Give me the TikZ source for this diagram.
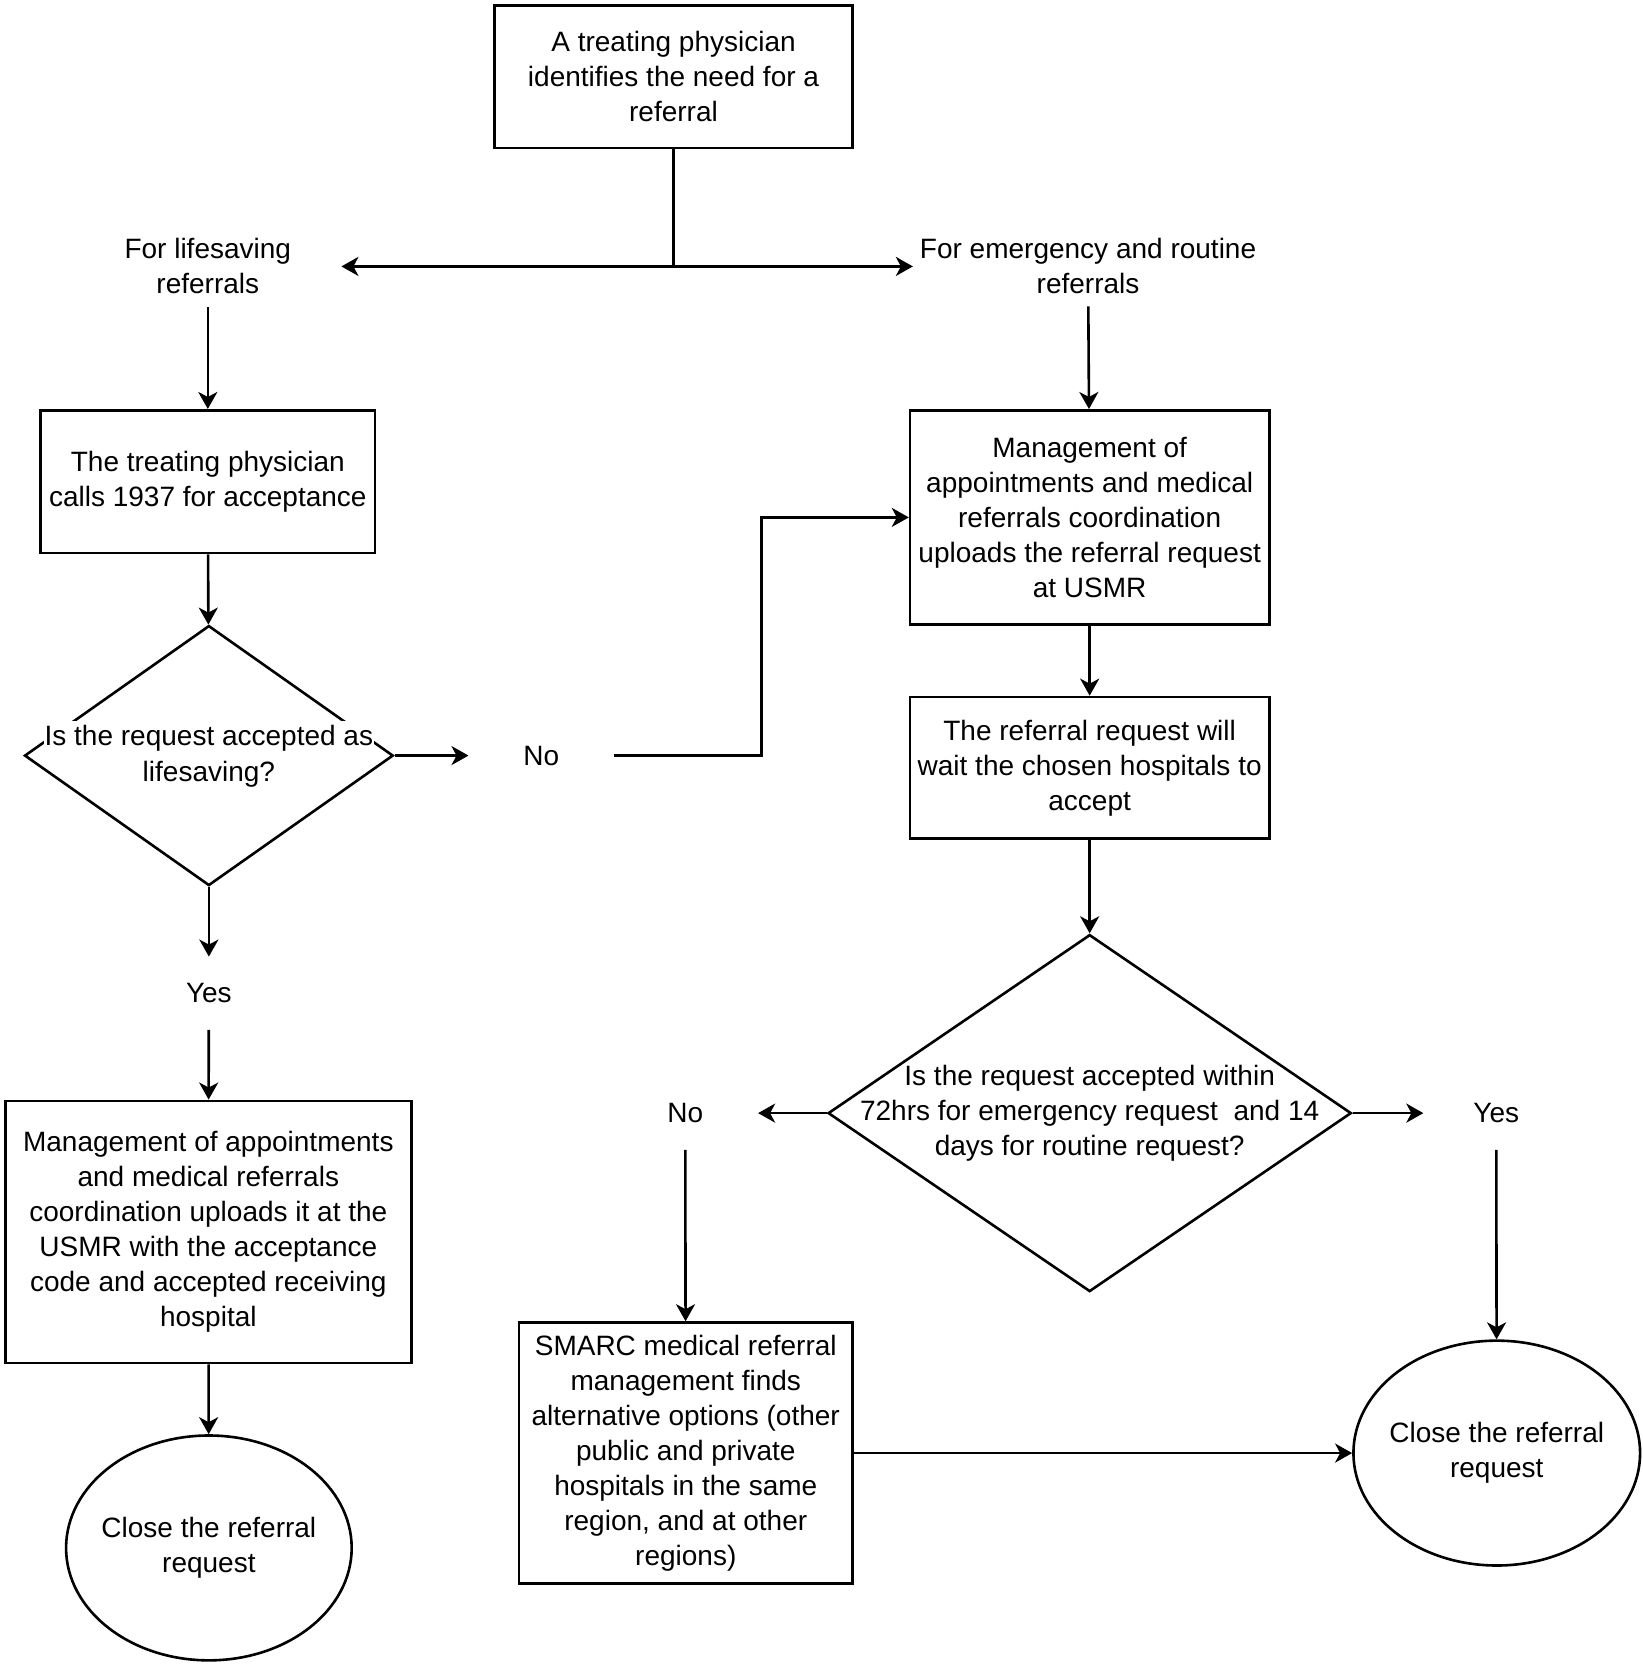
\documentclass[tikz,border=0pt]{standalone}
\usepackage{fontspec}
\setmainfont{Liberation Sans}
\usetikzlibrary{shapes.geometric, arrows.meta, positioning}
\newcommand{\unitpx}{0.5328pt}

\tikzset{
  every node/.style={font=\fontsize{14}{17.5}\selectfont},
  procbox/.style={draw, line width=1.3pt, align=center, inner sep=2pt},
  decision/.style={draw, diamond, line width=1.3pt, inner sep=0pt},
  closer/.style={draw, ellipse, line width=1.3pt, inner sep=0pt},
  answer/.style={align=center, minimum width=136*\unitpx, minimum height=68*\unitpx},
  arr/.style={line width=1.3pt, -{Stealth[length=8.5pt, width=9.5pt, inset=2.5pt]}},
}

\begin{document}
\begin{tikzpicture}[x=\unitpx, y=-\unitpx]
  \useasboundingbox (0,0) rectangle (1541,1568);

  % start
  \node[procbox, minimum width=336*\unitpx, minimum height=134*\unitpx] (start) at (632,72)
    {A treating physician\\identifies the need for a\\referral};
  \coordinate (split) at (632,250);
  \node[align=center, minimum width=250*\unitpx, minimum height=76*\unitpx] (lsv) at (195,250)
    {For lifesaving\\referrals};
  \node[align=center, minimum width=328*\unitpx, minimum height=74*\unitpx] (emr) at (1021,250)
    {For emergency and routine\\referrals};

  % lifesaving branch
  \node[procbox, minimum width=314*\unitpx, minimum height=134*\unitpx] (call) at (195,452)
    {The treating physician\\calls 1937 for acceptance};
  \node[decision, minimum width=346*\unitpx, minimum height=244*\unitpx] (dec1) at (196,709) {};
  \node[fill=white, inner sep=0.5pt, minimum height=33*\unitpx] (q1a) at (196,693)
    {Is the request accepted as};
  \node[fill=white, inner sep=0.5pt, minimum height=33*\unitpx, below=0pt of q1a] (q1b)
    {lifesaving?};
  \node[answer] (no1) at (508,709) {No};
  \node[answer] (yes1) at (196,932) {Yes};
  \node[procbox, minimum width=381*\unitpx, minimum height=246*\unitpx] (upl1) at (195.5,1156)
    {Management of appointments\\and medical referrals\\coordination uploads it at the\\USMR with the acceptance\\code and accepted receiving\\hospital};
  \node[closer, minimum width=268*\unitpx, minimum height=211*\unitpx] (close1) at (196,1452.5) {};
  \node[align=center] at (close1.center) {Close the referral\\request};

  % emergency and routine branch
  \node[procbox, minimum width=337*\unitpx, minimum height=201*\unitpx] (upl2) at (1022.5,485.5)
    {Management of\\appointments and medical\\referrals coordination\\uploads the referral request\\at USMR};
  \node[procbox, minimum width=337*\unitpx, minimum height=133*\unitpx] (wait) at (1022.5,720.5)
    {The referral request will\\wait the chosen hospitals to\\accept};
  \node[decision, minimum width=491*\unitpx, minimum height=335*\unitpx] (dec2) at (1022.5,1044.5) {};
  \node[align=center, inner sep=1pt] at (dec2.center)
    {Is the request accepted within\\72hrs for emergency request\ \ and 14\\days for routine request?};
  \node[answer] (no2) at (643,1044.5) {No};
  \node[answer] (yes2) at (1404,1044.5) {Yes};
  \node[procbox, minimum width=313*\unitpx, minimum height=245*\unitpx] (smarc) at (643.5,1363.5)
    {SMARC medical referral\\management finds\\alternative options (other\\public and private\\hospitals in the same\\region, and at other\\regions)};
  \node[closer, minimum width=269*\unitpx, minimum height=211*\unitpx] (close2) at (1404.5,1363.5) {};
  \node[align=center] at (close2.center) {Close the referral\\request};

  % connectors
  \draw[line width=1.3pt] (start) -- (split);
  \draw[arr] (split) -- (lsv);
  \draw[arr] (split) -- (emr);
  \draw[arr] (lsv) -- (call);
  \draw[arr] (call) -- (dec1);
  \draw[arr] (dec1) -- (no1);
  \draw[arr] (no1.east) -- ++(138,0) |- (upl2.west);
  \draw[arr] (dec1) -- (yes1);
  \draw[arr] (yes1) -- (upl1);
  \draw[arr] (upl1) -- (close1);
  \draw[arr] (emr) -- (upl2);
  \draw[arr] (upl2) -- (wait);
  \draw[arr] (wait) -- (dec2);
  \draw[arr] (dec2) -- (no2);
  \draw[arr] (dec2) -- (yes2);
  \draw[arr] (no2) -- (smarc);
  \draw[arr] (yes2) -- (close2);
  \draw[arr] (smarc) -- (close2);
\end{tikzpicture}
\end{document}
